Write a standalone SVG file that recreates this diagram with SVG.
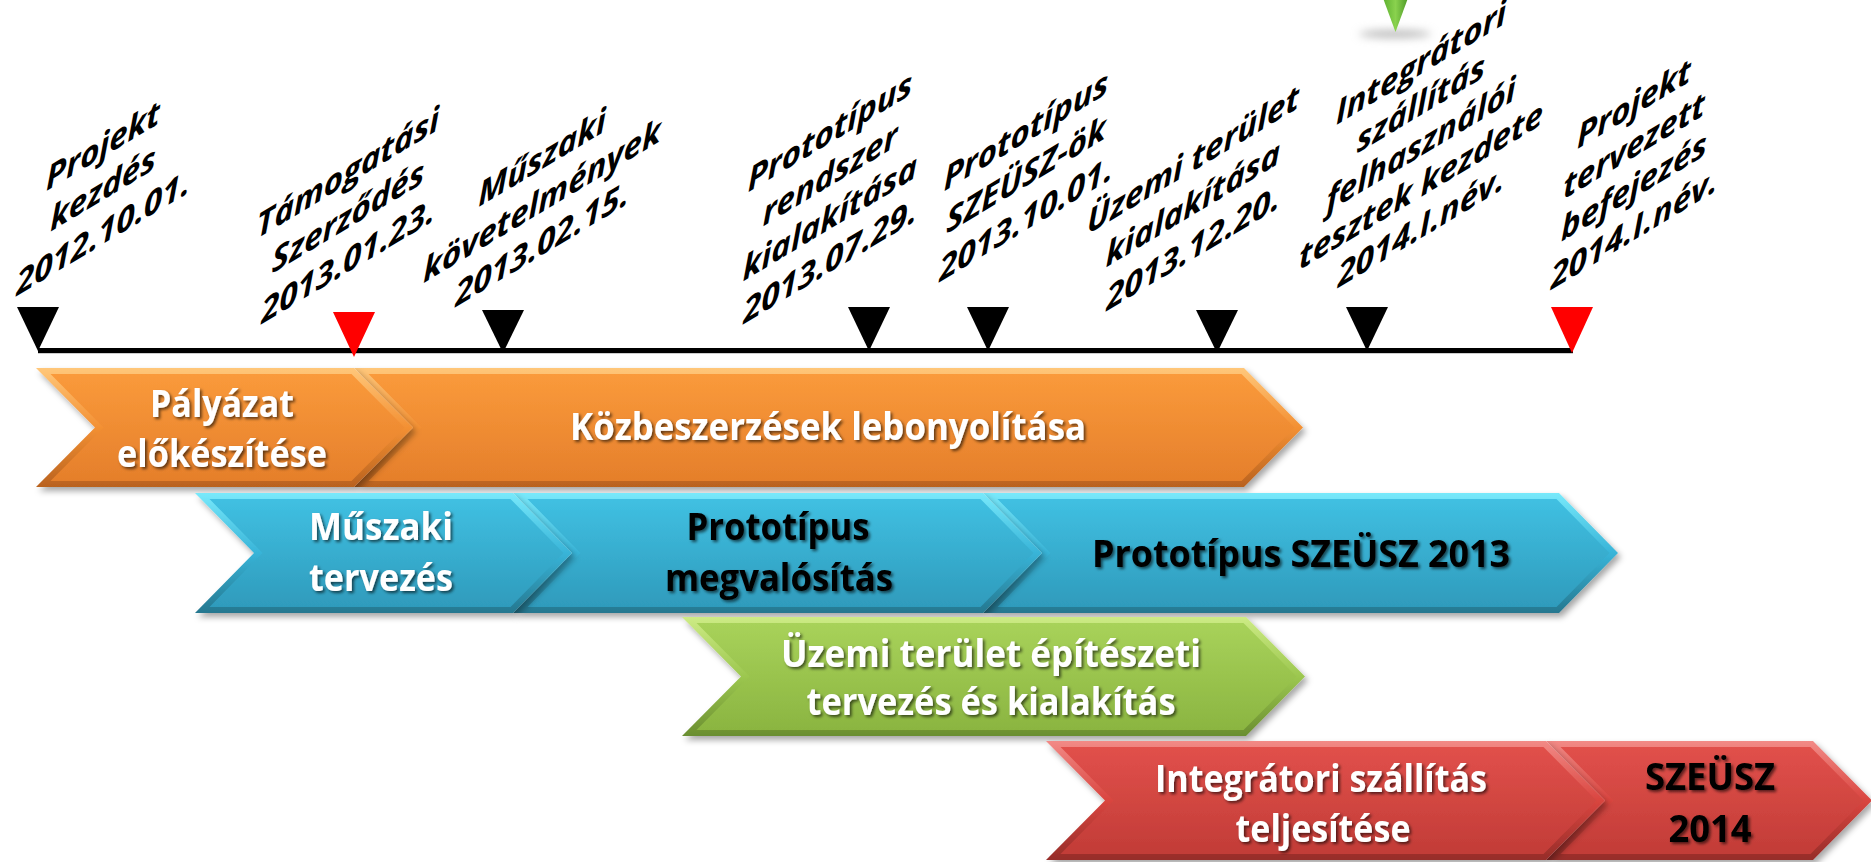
<svg xmlns="http://www.w3.org/2000/svg" width="1871" height="862" viewBox="0 0 1871 862">
<defs>
<style>
.lbl{font-family:"Open Sans","Liberation Sans",sans-serif;font-weight:700;font-style:italic;font-size:33px;fill:#000;text-anchor:middle}
.ct{font-family:"Open Sans","Liberation Sans",sans-serif;font-weight:700;font-size:38px;text-anchor:middle}
.w{fill:#fff}
.k{fill:#000}
.tri{fill:#000}
.red{fill:#ff0000}
</style>
<linearGradient id="oOut" x1="0" y1="0" x2="0" y2="1"><stop offset="0" stop-color="#FFC77A"/><stop offset="0.5" stop-color="#F39033"/><stop offset="1" stop-color="#B9621F"/></linearGradient>
<linearGradient id="oIn" x1="0" y1="0" x2="0" y2="1"><stop offset="0" stop-color="#FA9A3B"/><stop offset="1" stop-color="#E57F2B"/></linearGradient>
<linearGradient id="bOut" x1="0" y1="0" x2="0" y2="1"><stop offset="0" stop-color="#78E9FB"/><stop offset="0.5" stop-color="#38B4D8"/><stop offset="1" stop-color="#25778F"/></linearGradient>
<linearGradient id="bIn" x1="0" y1="0" x2="0" y2="1"><stop offset="0" stop-color="#40C0E2"/><stop offset="1" stop-color="#2F9BBC"/></linearGradient>
<linearGradient id="gOut" x1="0" y1="0" x2="0" y2="1"><stop offset="0" stop-color="#CDEB85"/><stop offset="0.5" stop-color="#9CC74F"/><stop offset="1" stop-color="#6A8E30"/></linearGradient>
<linearGradient id="gIn" x1="0" y1="0" x2="0" y2="1"><stop offset="0" stop-color="#A8D25A"/><stop offset="1" stop-color="#8BB541"/></linearGradient>
<linearGradient id="rOut" x1="0" y1="0" x2="0" y2="1"><stop offset="0" stop-color="#F28A86"/><stop offset="0.5" stop-color="#D9453F"/><stop offset="1" stop-color="#962D29"/></linearGradient>
<linearGradient id="rIn" x1="0" y1="0" x2="0" y2="1"><stop offset="0" stop-color="#E1504B"/><stop offset="1" stop-color="#C23C37"/></linearGradient>
<linearGradient id="grTri" x1="0" y1="0" x2="1" y2="0"><stop offset="0" stop-color="#5DB030"/><stop offset="0.5" stop-color="#8AD24E"/><stop offset="1" stop-color="#4E9A28"/></linearGradient>
<filter id="sh" x="-5%" y="-10%" width="110%" height="130%"><feDropShadow dx="3" dy="4" stdDeviation="3" flood-color="#000" flood-opacity="0.35"/></filter>
<filter id="tsh" x="-10%" y="-30%" width="120%" height="160%"><feDropShadow dx="2" dy="2" stdDeviation="1.5" flood-color="#000" flood-opacity="0.6"/></filter>
<filter id="blur" x="-50%" y="-200%" width="200%" height="500%"><feGaussianBlur stdDeviation="4"/></filter>
</defs>
<rect width="1871" height="862" fill="#fff"/>

<g id="top-marker">
<ellipse cx="1395" cy="34" rx="36" ry="4" fill="#bbb" filter="url(#blur)"/>
<polygon points="1383,-2 1408,-2 1395.5,32" fill="url(#grTri)"/>
</g>

<g id="connectors">
<line x1="38" y1="352" x2="1573" y2="352" stroke="#ccc" stroke-width="4"/>
<line x1="38" y1="350.5" x2="1573" y2="350.5" stroke="#000" stroke-width="5"/>
</g>

<g id="m1"><polygon class="tri" points="17,307 59,307 38,351"/>
<g transform="translate(103,0) skewY(-31)"><text class="lbl" x="0" y="157">Projekt</text><text class="lbl" x="0" y="200">kezdés</text><text class="lbl" x="0" y="244">2012.10.01.</text></g></g>
<g id="m2"><polygon class="red" points="333,312 375,312 354,357"/>
<g transform="translate(348,0) skewY(-31)"><text class="lbl" x="0" y="184">Támogatási</text><text class="lbl" x="0" y="228">Szerződés</text><text class="lbl" x="0" y="272">2013.01.23.</text></g></g>
<g id="m3"><polygon class="tri" points="482,310 524,310 503,353"/>
<g transform="translate(542,0) skewY(-31)"><text class="lbl" x="0" y="169">Műszaki</text><text class="lbl" x="0" y="212">követelmények</text><text class="lbl" x="0" y="255">2013.02.15.</text></g></g>
<g id="m4"><polygon class="tri" points="848,307 890,307 869,351"/>
<g transform="translate(830,0) skewY(-31)"><text class="lbl" x="0" y="143">Prototípus</text><text class="lbl" x="0" y="186">rendszer</text><text class="lbl" x="0" y="229">kialakítása</text><text class="lbl" x="0" y="272">2013.07.29.</text></g></g>
<g id="m5"><polygon class="tri" points="967,307 1009,307 988,351"/>
<g transform="translate(1026,0) skewY(-31)"><text class="lbl" x="0" y="142">Prototípus</text><text class="lbl" x="0" y="186">SZEÜSZ-ök</text><text class="lbl" x="0" y="230">2013.10.01.</text></g></g>
<g id="m6"><polygon class="tri" points="1196,310 1238,310 1217,353"/>
<g transform="translate(1193,0) skewY(-31)"><text class="lbl" x="0" y="171">Üzemi terület</text><text class="lbl" x="0" y="215">kialakítása</text><text class="lbl" x="0" y="259">2013.12.20.</text></g></g>
<g id="m7"><polygon class="tri" points="1346,307 1388,307 1367,351"/>
<g transform="translate(1421,0) skewY(-31)"><text class="lbl" x="0" y="74">Integrátori</text><text class="lbl" x="0" y="115">szállítás</text><text class="lbl" x="0" y="156">felhasználói</text><text class="lbl" x="0" y="197">tesztek kezdete</text><text class="lbl" x="0" y="238">2014.I.név.</text></g></g>
<g id="m8"><polygon class="red" points="1551,307 1593,307 1572,353"/>
<g transform="translate(1634,0) skewY(-31)"><text class="lbl" x="0" y="115">Projekt</text><text class="lbl" x="0" y="157">tervezett</text><text class="lbl" x="0" y="198">befejezés</text><text class="lbl" x="0" y="240">2014.I.név.</text></g></g>

<g id="o2" filter="url(#sh)">
<polygon points="354,368 1244,368 1303,427.5 1244,487 354,487 413,427.5" fill="url(#oOut)"/>
<polygon points="368.5,374 1241.5,374 1294.5,427.5 1241.5,481 368.5,481 421.5,427.5" fill="url(#oIn)"/>
<text class="ct w" filter="url(#tsh)" x="828" y="440" textLength="516" lengthAdjust="spacingAndGlyphs">Közbeszerzések lebonyolítása</text>
</g>
<g id="o1" filter="url(#sh)">
<polygon points="36,368 354,368 413,427.5 354,487 36,487 95,427.5" fill="url(#oOut)"/>
<polygon points="50.5,374 351.5,374 404.5,427.5 351.5,481 50.5,481 103.5,427.5" fill="url(#oIn)"/>
<text class="ct w" filter="url(#tsh)" x="222" y="417" textLength="144" lengthAdjust="spacingAndGlyphs">Pályázat</text>
<text class="ct w" filter="url(#tsh)" x="222" y="467" textLength="210" lengthAdjust="spacingAndGlyphs">előkészítése</text>
</g>

<g id="b3" filter="url(#sh)">
<polygon points="983,493 1559,493 1618,553 1559,613 983,613 1042,553" fill="url(#bOut)"/>
<polygon points="997.5,499 1556.5,499 1609.5,553 1556.5,607 997.5,607 1050.5,553" fill="url(#bIn)"/>
<text class="ct k" filter="url(#tsh)" x="1301" y="567" textLength="418" lengthAdjust="spacingAndGlyphs">Prototípus SZEÜSZ 2013</text>
</g>
<g id="b2" filter="url(#sh)">
<polygon points="513,493 983,493 1042,553 983,613 513,613 572,553" fill="url(#bOut)"/>
<polygon points="527.5,499 980.5,499 1033.5,553 980.5,607 527.5,607 580.5,553" fill="url(#bIn)"/>
<text class="ct k" filter="url(#tsh)" x="778" y="540" textLength="183" lengthAdjust="spacingAndGlyphs">Prototípus</text>
<text class="ct k" filter="url(#tsh)" x="779" y="591" textLength="228" lengthAdjust="spacingAndGlyphs">megvalósítás</text>
</g>
<g id="b1" filter="url(#sh)">
<polygon points="195,493 513,493 572,553 513,613 195,613 254,553" fill="url(#bOut)"/>
<polygon points="209.5,499 510.5,499 563.5,553 510.5,607 209.5,607 262.5,553" fill="url(#bIn)"/>
<text class="ct w" filter="url(#tsh)" x="381" y="540" textLength="144" lengthAdjust="spacingAndGlyphs">Műszaki</text>
<text class="ct w" filter="url(#tsh)" x="381" y="591" textLength="144" lengthAdjust="spacingAndGlyphs">tervezés</text>
</g>

<g id="g1" filter="url(#sh)">
<polygon points="682,617 1246,617 1305,676.5 1246,736 682,736 741,676.5" fill="url(#gOut)"/>
<polygon points="696.5,623 1243.5,623 1296.5,676.5 1243.5,730 696.5,730 749.5,676.5" fill="url(#gIn)"/>
<text class="ct w" filter="url(#tsh)" x="991" y="667" textLength="420" lengthAdjust="spacingAndGlyphs">Üzemi terület építészeti</text>
<text class="ct w" filter="url(#tsh)" x="991" y="715" textLength="369" lengthAdjust="spacingAndGlyphs">tervezés és kialakítás</text>
</g>

<g id="r2" filter="url(#sh)">
<polygon points="1546,741 1813,741 1872,800.5 1813,860 1546,860 1605,800.5" fill="url(#rOut)"/>
<polygon points="1560.5,747 1810.5,747 1863.5,800.5 1810.5,854 1560.5,854 1613.5,800.5" fill="url(#rIn)"/>
<text class="ct k" filter="url(#tsh)" x="1710" y="790" textLength="130" lengthAdjust="spacingAndGlyphs">SZEÜSZ</text>
<text class="ct k" filter="url(#tsh)" x="1710" y="842" textLength="83" lengthAdjust="spacingAndGlyphs">2014</text>
</g>
<g id="r1" filter="url(#sh)">
<polygon points="1046,741 1546,741 1605,800.5 1546,860 1046,860 1105,800.5" fill="url(#rOut)"/>
<polygon points="1060.5,747 1543.5,747 1596.5,800.5 1543.5,854 1060.5,854 1113.5,800.5" fill="url(#rIn)"/>
<text class="ct w" filter="url(#tsh)" x="1321" y="792" textLength="332" lengthAdjust="spacingAndGlyphs">Integrátori szállítás</text>
<text class="ct w" filter="url(#tsh)" x="1323" y="842" textLength="175" lengthAdjust="spacingAndGlyphs">teljesítése</text>
</g>
</svg>
